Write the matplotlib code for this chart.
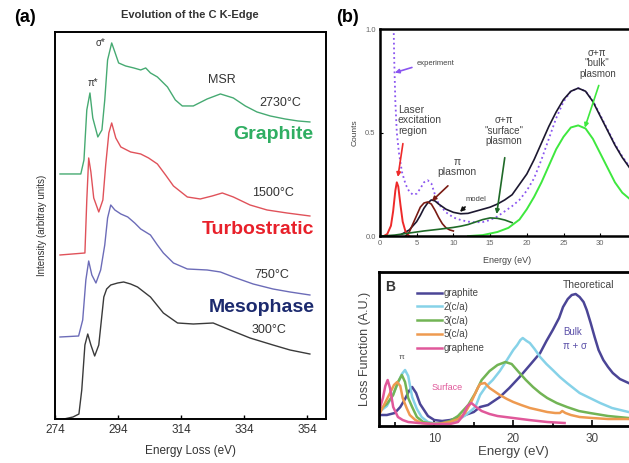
import matplotlib
matplotlib.use("Agg")
import matplotlib.pyplot as plt
from matplotlib.ticker import MultipleLocator

plt.rcParams['font.family'] = ['Liberation Sans', 'DejaVu Sans']

# ---- (a) C K-edge spectra, offset vertically ----
e_graphite = [275.6, 282.2, 283.2, 284.1, 285.1, 286.0, 287.6, 288.9, 289.8, 290.7, 292.0, 293.0,
              294.2, 296.4, 299.0, 301.2, 302.8, 304.3, 306.5, 309.7, 312.2, 314.4, 317.9, 322.3,
              326.5, 330.6, 334.4, 338.1, 342.3, 347.0, 351.1, 354.9]
i_graphite = [245, 245, 259, 309, 326, 301, 282, 289, 319, 359, 376, 367,
              356, 353, 351, 349, 351, 346, 342, 332, 319, 313, 313, 320,
              325, 321, 313, 307, 303, 300, 298, 297]

e_turbo = [275.6, 283.5, 284.1, 284.7, 285.4, 286.3, 287.9, 289.2, 290.1, 291.1, 292.0, 293.3,
           294.9, 298.0, 301.2, 303.7, 306.5, 309.1, 311.6, 316.0, 320.1, 323.9, 327.1, 330.6,
           335.9, 341.3, 347.6, 354.9]
i_turbo = [164, 166, 219, 261, 247, 221, 207, 219, 254, 286, 296, 281,
           272, 267, 265, 261, 255, 244, 233, 222, 220, 223, 226, 222,
           214, 209, 206, 203]

e_meso = [275.6, 281.5, 282.8, 283.8, 284.7, 285.7, 287.0, 288.5, 289.8, 290.7, 291.7, 293.0,
          294.9, 297.1, 299.3, 301.2, 304.3, 306.5, 308.4, 311.6, 316.0, 322.3, 326.5, 330.6,
          336.9, 343.2, 348.6, 354.9]
i_meso = [82, 83, 99, 139, 158, 144, 136, 149, 174, 201, 214, 209,
          205, 202, 196, 190, 184, 174, 166, 156, 150, 149, 147, 142,
          135, 130, 127, 124]

e_300 = [276.8, 279.7, 281.6, 282.5, 283.5, 284.4, 285.4, 286.6, 287.9, 289.5, 290.4, 291.7,
         293.9, 295.8, 298.0, 300.2, 304.3, 308.4, 312.9, 317.9, 324.2, 329.6, 335.9, 343.2,
         348.6, 354.9]
i_300 = [0, 2, 5, 29, 74, 85, 74, 63, 74, 122, 130, 134,
         136, 137, 135, 132, 122, 106, 96, 95, 96, 89, 81, 74,
         69, 65]

# ---- (b) low-loss EELS: experiment, model and fitted components ----
e_laser = [0.5, 1.0, 1.5, 1.8, 2.1, 2.3, 2.5, 2.8, 3.1, 3.5, 4.0]
c_laser = [0, 0.01, 0.05, 0.12, 0.22, 0.26, 0.24, 0.15, 0.07, 0.02, 0.0]

e_pi = [3.5, 4.0, 4.5, 5.0, 5.5, 6.0, 6.5, 7.0, 7.5, 8.0, 8.5, 9.0, 9.5, 10.0]
c_pi = [0, 0.02, 0.06, 0.10, 0.14, 0.16, 0.165, 0.155, 0.125, 0.09, 0.06, 0.04, 0.03, 0.025]

e_surf = [0, 2, 4, 6, 8, 10, 11, 12, 13, 14, 15, 16, 17, 18]
c_surf = [0, 0.005, 0.015, 0.025, 0.033, 0.042, 0.048, 0.056, 0.068, 0.08, 0.088, 0.086, 0.078, 0.065]

e_bulk = [12, 14, 16, 17.5, 19, 20, 21, 22, 23, 24, 25, 26, 27, 28, 29, 30, 31, 32, 33, 34, 35, 36]
c_bulk = [0, 0.005, 0.02, 0.04, 0.08, 0.13, 0.19, 0.26, 0.34, 0.42, 0.48, 0.525, 0.535, 0.52,
          0.47, 0.40, 0.33, 0.26, 0.21, 0.18, 0.15, 0.12]

e_model = [3.0, 4.0, 5.0, 5.5, 6.0, 6.5, 7.0, 7.5, 8.0, 9.0, 10.0, 11.0, 12.0, 13.0, 14.0, 15.0,
           16.0, 17.0, 18.0, 19.0, 20.0, 21.0, 22.0, 23.0, 24.0, 25.0, 26.0, 27.0, 28.0, 29.0,
           30.0, 31.0, 32.0, 33.0, 34.0, 35.0, 36.0]
c_model = [0.01, 0.03, 0.07, 0.10, 0.135, 0.16, 0.175, 0.17, 0.155, 0.13, 0.115, 0.108, 0.11,
           0.12, 0.13, 0.14, 0.155, 0.175, 0.20, 0.25, 0.30, 0.37, 0.45, 0.53, 0.60, 0.66, 0.70,
           0.715, 0.70, 0.65, 0.58, 0.51, 0.44, 0.38, 0.33, 0.29, 0.25]

e_exp = [1.85, 1.95, 2.1, 2.3, 2.6, 3.0, 3.5, 4.0, 4.5, 5.0, 5.5, 6.0, 6.5, 7.0, 7.5, 8.0, 9.0,
         10.0, 11.0, 12.0, 13.0, 14.0, 15.0, 16.0, 17.0, 18.0, 19.0, 20.0, 21.0, 22.0, 23.0,
         24.0, 25.0, 26.0, 27.0, 28.0, 29.0, 30.0, 31.0, 32.0, 33.0, 34.0, 35.0, 36.0]
c_exp = [1.05, 0.85, 0.65, 0.50, 0.40, 0.31, 0.25, 0.215, 0.20, 0.205, 0.23, 0.26, 0.27, 0.255,
         0.20, 0.155, 0.115, 0.09, 0.078, 0.07, 0.067, 0.068, 0.078, 0.095, 0.12, 0.145, 0.175,
         0.22, 0.28, 0.37, 0.47, 0.57, 0.65, 0.70, 0.715, 0.70, 0.655, 0.585, 0.515, 0.445,
         0.385, 0.335, 0.29, 0.25]

# ---- (B) theoretical loss functions ----
lf_labels = ['graphite', '2(c/a)', '3(c/a)', '5(c/a)', 'graphene']
lf_colors = ['#4b4596', '#86d2e8', '#72b455', '#ee9a50', '#e0589a']

e_lf_graphite = [3.0, 4.0, 5.0, 5.7, 6.3, 6.8, 7.2, 7.7, 8.2, 9.2, 10.0, 11.0, 12.0, 13.0, 13.9,
                 15.0, 15.8, 16.8, 18.3, 19.5, 20.8, 22.0, 23.4, 24.2, 25.0, 25.8, 26.3, 26.9,
                 27.4, 27.9, 28.4, 28.9, 29.3, 29.8, 30.3, 30.8, 31.4, 32.0, 32.6, 33.5, 34.6, 36.0]
lf_graphite = [11, 11, 13, 19, 27, 35, 39, 33, 22, 10, 6, 5, 6, 8, 11,
               14, 19, 21, 29, 38, 49, 60, 73, 85, 96, 108, 119, 127,
               131, 132, 129, 124, 116, 103, 89, 76, 66, 59, 53, 47, 43, 38]

e_lf_2ca = [3.0, 4.0, 4.8, 5.4, 5.9, 6.3, 6.7, 7.2, 7.8, 8.4, 9.2, 10.5, 12.0, 13.0, 14.0, 15.2,
            15.8, 16.5, 17.4, 18.3, 19.2, 20.0, 20.5, 20.9, 21.2, 21.7, 22.1, 22.7, 23.4, 24.2,
            25.0, 25.9, 26.8, 27.6, 28.4, 29.7, 31.0, 32.5, 34.6, 36.0]
lf_2ca = [14, 20, 32, 43, 52, 56, 50, 29, 17, 9, 4, 2, 3, 6, 11, 19,
          31, 39, 46, 55, 66, 76, 81, 86, 88, 85, 83, 77, 69, 62,
          56, 49, 43, 38, 33, 28, 23, 18, 14, 12]

e_lf_3ca = [3.0, 4.0, 4.8, 5.4, 5.9, 6.3, 6.7, 7.2, 7.8, 8.6, 10.0, 11.0, 12.0, 13.0, 14.3, 15.2,
            16.0, 17.0, 18.0, 19.0, 19.8, 20.8, 21.6, 22.5, 23.4, 24.3, 25.5, 26.8, 28.3, 29.7,
            32.0, 34.6, 36.0]
lf_3ca = [16, 22, 31, 44, 51, 44, 28, 19, 9, 4, 2, 3, 5, 10, 21, 33,
          46, 55, 61, 64, 62, 53, 46, 39, 33, 28, 23, 19, 15, 13,
          10, 8, 7]

e_lf_5ca = [3.0, 3.7, 4.4, 4.9, 5.3, 5.7, 6.0, 6.5, 6.9, 7.6, 8.4, 9.5, 10.5, 12.0, 13.0, 13.9,
            14.8, 15.5, 15.8, 16.4, 17.0, 18.3, 19.2, 20.0, 21.0, 22.1, 23.2, 24.3, 25.3, 25.9,
            26.2, 26.6, 27.3, 28.4, 30.0, 32.0, 34.6, 36.0]
lf_5ca = [11, 22, 33, 41, 44, 40, 28, 18, 11, 6, 3, 2, 2, 4, 7, 13,
          26, 38, 42, 43, 38, 31, 27, 24, 21, 18, 16, 14, 13, 13,
          15, 13, 11, 9, 8, 7, 7, 6]

e_lf_graphene = [3.0, 3.5, 3.8, 4.1, 4.4, 4.8, 5.4, 6.0, 6.7, 8.0, 10.0, 12.0, 13.0, 13.6, 14.2,
                 14.7, 15.3, 16.0, 17.0, 18.0, 20.0, 22.0, 24.3, 26.5]
lf_graphene = [15, 28, 40, 46, 38, 19, 9, 6, 4, 3, 2, 2, 4, 10, 20,
               23, 19, 15, 12, 10, 8, 6, 4, 3]

fig = plt.figure(figsize=(6.29, 4.63), dpi=100)

# ================= panel (a) =================
ax1 = fig.add_axes([0.0874, 0.095, 0.4308, 0.836])
ax1.plot(e_graphite, i_graphite, color='#46aa72', lw=1.0)
ax1.plot(e_turbo, i_turbo, color='#e0525a', lw=1.0)
ax1.plot(e_meso, i_meso, color='#6c6cb8', lw=1.0)
ax1.plot(e_300, i_300, color='#3a3a3a', lw=1.0)
ax1.set_xlim(274, 360)
ax1.set_ylim(0, 387)
ax1.set_xticks([274, 294, 314, 334, 354])
ax1.set_yticks([])
ax1.tick_params(axis='x', labelsize=8.5, labelcolor='#333333', direction='in', length=3, width=1)
for s in ax1.spines.values():
    s.set_linewidth(1.4)
ax1.set_xlabel('Energy Loss (eV)', fontsize=8.5, color='#333333')
ax1.xaxis.set_label_coords(0.5, -0.067)
ax1.set_ylabel('Intensity (arbitray units)', fontsize=7, color='#333333')
ax1.yaxis.set_label_coords(-0.03, 0.5)

ax1.text(288.5, 376, 'σ*', fontsize=7, color='#333333', ha='center', va='center')
ax1.text(286.0, 336, 'π*', fontsize=7, color='#333333', ha='center', va='center')
ax1.text(327.1, 339, 'MSR', fontsize=9, color='#333333', ha='center', va='center')
ax1.text(345.4, 316, '2730°C', fontsize=9, color='#333333', ha='center', va='center')
ax1.text(343.2, 284, 'Graphite', fontsize=14, fontweight='bold', color='#2fae62', ha='center', va='center')
ax1.text(343.2, 226, '1500°C', fontsize=9, color='#333333', ha='center', va='center')
ax1.text(338.5, 189, 'Turbostratic', fontsize=14, fontweight='bold', color='#e8202a', ha='center', va='center')
ax1.text(342.9, 144, '750°C', fontsize=9, color='#333333', ha='center', va='center')
ax1.text(339.7, 111, 'Mesophase', fontsize=14, fontweight='bold', color='#1c2a6e', ha='center', va='center')
ax1.text(342.0, 89, '300°C', fontsize=9, color='#333333', ha='center', va='center')

fig.text(190 / 629, 1 - 15 / 463, 'Evolution of the C K-Edge', fontsize=8, fontweight='bold',
         color='#333333', ha='center', va='center')
fig.text(25 / 629, 1 - 17 / 463, '(a)', fontsize=13, fontweight='bold', ha='center', va='center')
fig.text(347 / 629, 1 - 17 / 463, '(b)', fontsize=13, fontweight='bold', ha='center', va='center')

# ================= panel (b) =================
ax2 = fig.add_axes([0.604, 0.49, 0.432, 0.447])
ax2.plot(e_exp, c_exp, color='#8a55f0', lw=1.3, ls=':')
ax2.plot(e_model, c_model, color='#1c1830', lw=1.2)
ax2.plot(e_laser, c_laser, color='#ee2a2a', lw=1.4)
ax2.plot(e_pi, c_pi, color='#7a1c14', lw=1.2)
ax2.plot(e_surf, c_surf, color='#1f6a28', lw=1.2)
ax2.plot(e_bulk, c_bulk, color='#3ee83e', lw=1.4)
ax2.set_xlim(0, 37)
ax2.set_ylim(0, 1.0)
ax2.set_xticks([0, 5, 10, 15, 20, 25, 30])
ax2.set_yticks([0.0, 0.5, 1.0])
ax2.set_yticklabels(['0.0', '0.5', '1.0'])
ax2.tick_params(labelsize=5.5, labelcolor='#666666', direction='in', length=2, width=0.8, pad=3)
for s in ax2.spines.values():
    s.set_linewidth(1.8)
ax2.set_ylabel('Counts', fontsize=6, color='#444444')
ax2.yaxis.set_label_coords(-0.077, 0.5)
ax2.set_xlabel('Energy (eV)', fontsize=6.5, color='#444444')
ax2.xaxis.set_label_coords(0.468, -0.097)

tcol = '#444444'
ax2.text(5.0, 0.835, 'experiment', fontsize=5.5, color=tcol, ha='left', va='center')
ax2.text(2.45, 0.56, 'Laser\nexcitation\nregion', fontsize=7.5, color=tcol, ha='left', va='center',
         linespacing=1.05)
ax2.text(10.5, 0.335, 'π\nplasmon', fontsize=7.5, color=tcol, ha='center', va='center',
         linespacing=1.05)
ax2.text(11.6, 0.175, 'model', fontsize=5.5, color=tcol, ha='left', va='center')
ax2.text(16.9, 0.51, 'σ+π\n"surface"\nplasmon', fontsize=7, color=tcol, ha='center', va='center',
         linespacing=1.1)
ax2.text(29.6, 0.835, 'σ+π\n"bulk"\nplasmon', fontsize=7, color=tcol, ha='center', va='center',
         linespacing=1.1)

arrows = [((4.36, 0.815), (2.04, 0.79), '#8a55f0'),
          ((3.13, 0.447), (2.45, 0.286), '#ee2a2a'),
          ((9.26, 0.243), (7.08, 0.17), '#7a1c14'),
          ((11.6, 0.141), (10.9, 0.117), '#111111'),
          ((17.0, 0.379), (15.9, 0.107), '#1f6a28'),
          ((29.8, 0.728), (27.9, 0.524), '#3ee83e')]
for start, end, col in arrows:
    ax2.annotate('', xy=end, xytext=start,
                 arrowprops=dict(arrowstyle='-|>', color=col, lw=1.2, mutation_scale=6,
                                 shrinkA=0, shrinkB=0))

# ================= panel (B) =================
ax3 = fig.add_axes([0.6025, 0.0799, 0.427, 0.3326])
lf_series = [(e_lf_graphite, lf_graphite), (e_lf_2ca, lf_2ca), (e_lf_3ca, lf_3ca),
             (e_lf_5ca, lf_5ca), (e_lf_graphene, lf_graphene)]
for (ex, ys), lab, col in zip(lf_series, lf_labels, lf_colors):
    ax3.plot(ex, ys, color=col, lw=1.8, label=lab)
ax3.set_xlim(3, 37)
ax3.set_ylim(0, 154)
ax3.set_yticks([])
ax3.xaxis.set_major_locator(MultipleLocator(10))
ax3.xaxis.set_minor_locator(MultipleLocator(5))
ax3.tick_params(axis='x', which='both', direction='in', width=1.2, labelsize=8.5,
                labelcolor='#444444', pad=5)
ax3.tick_params(axis='x', which='major', length=4)
ax3.tick_params(axis='x', which='minor', length=3)
for s in ax3.spines.values():
    s.set_linewidth(2)
ax3.set_xlabel('Energy (eV)', fontsize=9.5, color='#444444')
ax3.xaxis.set_label_coords(0.5, -0.13)
ax3.set_ylabel('Loss Function (A.U.)', fontsize=9, color='#444444')
ax3.yaxis.set_label_coords(-0.03, 0.5)

ax3.legend(loc='upper left', bbox_to_anchor=(0.141, 0.895), frameon=False, fontsize=7,
           handlelength=2.6, handletextpad=0.15, labelspacing=0.38, borderpad=0,
           borderaxespad=0, labelcolor='#444444')

ax3.text(4.4, 139, 'B', fontsize=10, fontweight='bold', color='#333333', ha='center', va='center')
ax3.text(26.3, 141, 'Theoretical', fontsize=7.5, color='#444444', ha='left', va='center')
ax3.text(26.3, 94, 'Bulk', fontsize=7, color='#5a4fa8', ha='left', va='center')
ax3.text(26.3, 80, 'π + σ', fontsize=7, color='#5a4fa8', ha='left', va='center')
ax3.text(5.9, 69, 'π', fontsize=6, color='#555555', ha='center', va='center')
ax3.text(9.7, 39, 'Surface', fontsize=6.5, color='#e0589a', ha='left', va='center')

fig.savefig('out.png', dpi=100)
